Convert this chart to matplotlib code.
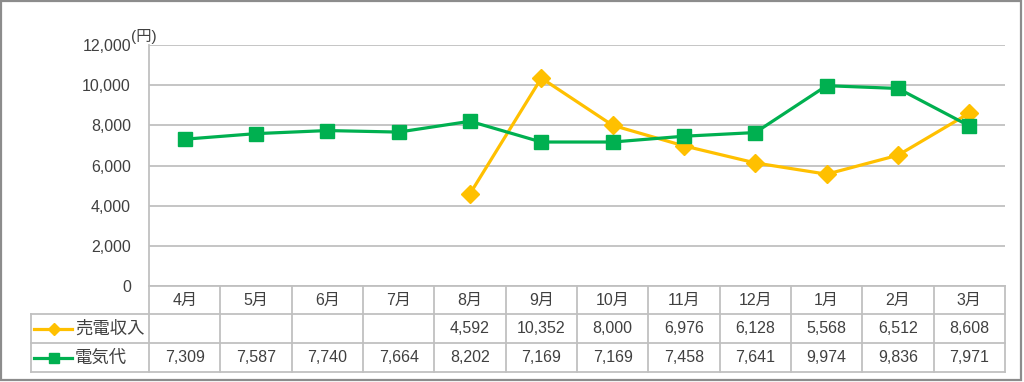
import matplotlib.pyplot as plt
from matplotlib.lines import Line2D
from matplotlib.patches import Rectangle

plt.rcParams['font.family'] = ['Liberation Sans', 'Noto Sans CJK JP']

months = ['4月', '5月', '6月', '7月', '8月', '9月', '10月', '11月', '12月', '1月', '2月', '3月']
sales = [None, None, None, None, 4592, 10352, 8000, 6976, 6128, 5568, 6512, 8608]
power = [7309, 7587, 7740, 7664, 8202, 7169, 7169, 7458, 7641, 9974, 9836, 7971]
series_names = ['売電収入', '電気代']
yticks = [0, 2000, 4000, 6000, 8000, 10000, 12000]

W, H = 1024, 382
text_c = '#404040'
grid_c = '#c0c0c0'
orange = '#ffc000'
green = '#00b050'

fig = plt.figure(figsize=(W / 100, H / 100), dpi=100)
fig.patches.append(Rectangle((1 / W, 2 / H), 1020 / W, 379 / H, transform=fig.transFigure,
                             fill=False, edgecolor='#8c8c8c', linewidth=1.6))

# plot area (pixels: x 149..1005, y 45..286)
x0, x1, ytop, ybot = 149, 1005, 45, 286
ax = fig.add_axes([x0 / W, (H - ybot) / H, (x1 - x0) / W, (ybot - ytop) / H])
xs = list(range(len(months)))
sx = [x for x, v in zip(xs, sales) if v is not None]
sv = [v for v in sales if v is not None]
ax.plot(sx, sv, color=orange, lw=2.3, marker='D', ms=9.5, zorder=3)
ax.plot(xs, power, color=green, lw=2.3, marker='s', ms=10, zorder=4)
ax.set_xlim(-0.5, 11.5)
ax.set_ylim(0, 12000)
ax.set_yticks(yticks)
ax.set_yticklabels([f'{v:,}' for v in yticks], fontsize=11.5, color=text_c)
ax.set_xticks([])
ax.tick_params(axis='y', length=0, pad=13)
ax.grid(axis='y', color=grid_c, lw=1.3)
for s in ['top', 'right', 'bottom']:
    ax.spines[s].set_visible(False)
ax.spines['left'].set_color(grid_c)
ax.spines['left'].set_linewidth(1.3)
fig.text(131 / W, 1 - 37 / H, '(円)', fontsize=11, color=text_c, ha='left', va='center')

# data table below (pixels: x 31..1005, y 286..372)
tl = 31
colw = (x1 - x0) / 12
tx = fig.add_axes([tl / W, (H - 372) / H, (x1 - tl) / W, (372 - 286) / H])
xmin = -0.5 - (x0 - tl) / colw
tx.set_xlim(xmin, 11.5)
tx.set_ylim(372, 286)
tx.axis('off')

rows = [286, 314, 343, 372]
for y in rows[1:]:
    tx.plot([xmin, 11.5], [y, y], color=grid_c, lw=1.3, clip_on=False)
tx.plot([-0.5, 11.5], [286, 286], color=grid_c, lw=1.3, clip_on=False)
for i in range(13):
    tx.plot([i - 0.5, i - 0.5], [286, 372], color=grid_c, lw=1.3, clip_on=False)
tx.plot([xmin, xmin], [314, 372], color=grid_c, lw=1.3, clip_on=False)

ymid = [(rows[i] + rows[i + 1]) / 2 for i in range(3)]
for i, m in enumerate(months):
    tx.text(i, ymid[0], m, ha='center', va='center', fontsize=11.5, color=text_c)
    if sales[i] is not None:
        tx.text(i, ymid[1], f'{sales[i]:,}', ha='center', va='center', fontsize=11.5, color=text_c)
    tx.text(i, ymid[2], f'{power[i]:,}', ha='center', va='center', fontsize=11.5, color=text_c)

def px(p):
    return -0.5 + (p - x0) / colw

for r, name, col, mk, ms in [(1, series_names[0], orange, 'D', 6), (2, series_names[1], green, 's', 7)]:
    tx.add_line(Line2D([px(34), px(72)], [ymid[r], ymid[r]], color=col, lw=2.3, clip_on=False))
    tx.add_line(Line2D([px(54)], [ymid[r]], color=col, marker=mk, ms=ms, clip_on=False))
    tx.text(px(75), ymid[r], name, ha='left', va='center', fontsize=12.5, color=text_c)

fig.savefig('out.png', dpi=100)
